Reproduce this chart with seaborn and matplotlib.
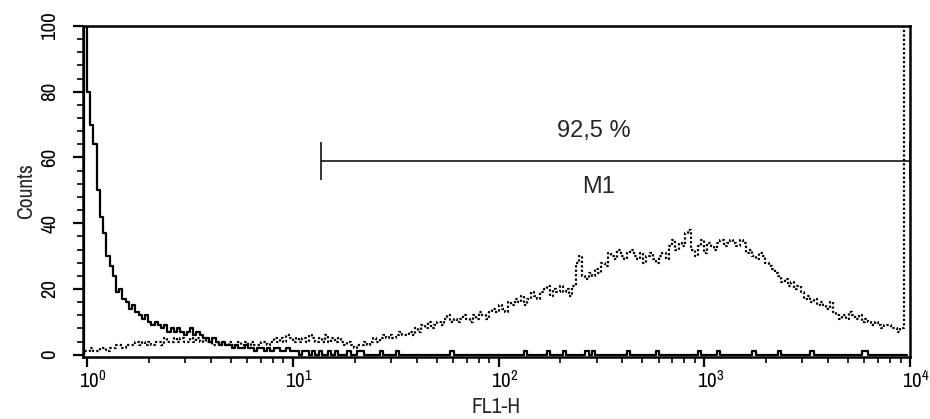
import numpy as np
import pandas as pd
import matplotlib
matplotlib.use("Agg")
import matplotlib.pyplot as plt
import matplotlib.transforms as mtransforms
from matplotlib import font_manager
from matplotlib.font_manager import FontProperties
import seaborn as sns
from matplotlib.ticker import FixedLocator, MultipleLocator, NullFormatter

# FL1-H histogram: 256 log channels over four decades (64 channels per decade);
# channel c ends at 10**(c / 64)
channels_per_decade = 64

# Unstained control (solid line), counts per channel
control_counts = [
    120, 80, 70, 64, 50, 42, 37, 30, 27, 24,
    19, 20, 17, 16, 14, 15, 13, 12, 11, 12,
    10, 9, 10, 9, 8, 9, 7, 8, 7, 8,
    7, 6, 7, 8, 6, 7, 6, 5, 5, 4,
    5, 4, 3, 4, 3, 3, 2, 3, 2, 2,
    3, 2, 2, 1, 2, 2, 1, 2, 1, 2,
    2, 1, 1, 2, 1, 1, 1, 0, 1, 1,
    0, 1, 0, 1, 0, 0, 1, 0, 1, 0,
    0, 0, 1, 0, 0, 1, 1, 0, 0, 0,
    0, 0, 1, 0, 0, 0, 0, 1, 0, 0,
    0, 0, 0, 0, 0, 0, 0, 0, 0, 0,
    0, 0, 0, 0, 1, 0, 0, 0, 0, 0,
    0, 0, 0, 0, 0, 0, 0, 0, 0, 0,
    0, 0, 0, 0, 0, 0, 0, 1, 0, 0,
    0, 0, 0, 0, 1, 0, 0, 0, 0, 1,
    0, 0, 0, 0, 0, 0, 1, 0, 1, 0,
    0, 0, 0, 0, 0, 0, 0, 0, 0, 1,
    0, 0, 0, 0, 0, 0, 0, 0, 1, 0,
    0, 0, 0, 0, 0, 0, 0, 0, 0, 0,
    0, 1, 0, 0, 0, 0, 0, 1, 0, 0,
    0, 0, 0, 0, 0, 0, 0, 0, 1, 0,
    0, 0, 0, 0, 0, 0, 1, 0, 0, 0,
    0, 0, 0, 0, 0, 0, 1, 0, 0, 0,
    0, 0, 0, 0, 0, 0, 0, 0, 0, 0,
    0, 0, 1, 1, 0, 0, 0, 0, 0, 0,
    0, 0, 0, 0, 0, 0,
]

# Stained sample (dotted line), counts per channel; last channel holds off-scale events
stained_counts = [
    1, 1, 2, 1, 1, 2, 2, 1, 2, 2,
    3, 3, 2, 3, 3, 3, 4, 3, 4, 3,
    4, 3, 4, 4, 3, 5, 4, 4, 5, 4,
    5, 4, 4, 5, 4, 5, 4, 5, 4, 4,
    3, 4, 3, 4, 3, 4, 3, 3, 4, 3,
    4, 3, 4, 3, 3, 4, 4, 3, 4, 5,
    4, 5, 4, 6, 5, 4, 5, 4, 5, 4,
    6, 5, 4, 5, 4, 6, 4, 5, 4, 5,
    4, 3, 4, 3, 2, 3, 3, 4, 3, 4,
    5, 4, 5, 6, 5, 6, 5, 6, 7, 6,
    6, 7, 6, 8, 7, 9, 8, 10, 8, 9,
    10, 9, 11, 12, 10, 11, 10, 11, 12, 11,
    10, 12, 11, 13, 12, 11, 13, 14, 13, 15,
    14, 13, 16, 15, 17, 16, 18, 15, 17, 19,
    18, 17, 19, 20, 21, 18, 20, 19, 21, 19,
    20, 18, 21, 28, 30, 24, 23, 25, 24, 26,
    25, 28, 27, 31, 30, 29, 32, 30, 29, 31,
    32, 30, 29, 31, 28, 30, 31, 29, 28, 30,
    31, 29, 33, 35, 32, 34, 33, 37, 38, 32,
    30, 33, 35, 31, 34, 33, 32, 34, 35, 33,
    34, 35, 34, 33, 35, 34, 31, 32, 30, 29,
    31, 30, 28, 27, 26, 25, 24, 22, 23, 21,
    22, 20, 21, 19, 17, 18, 16, 17, 15, 16,
    15, 14, 16, 13, 12, 11, 12, 11, 13, 12,
    11, 12, 10, 11, 10, 9, 10, 9, 8, 9,
    9, 8, 8, 7, 8, 130,
]

# Marker M1 gate
marker_name = "M1"
marker_bounds = (13.7, 10000.0)
marker_level = 59
marker_percent = 92.5

x_ticks = [1, 10, 100, 1000, 10000]
x_tick_labels = ["$10^{0}$", "$10^{1}$", "$10^{2}$", "$10^{3}$", "$10^{4}$"]
y_ticks = [0, 20, 40, 60, 80, 100]
x_label = "FL1-H"
y_label = "Counts"


def step_frame(counts, name):
    n = len(counts)
    edges = 10.0 ** ((np.arange(n + 1) - 1) / channels_per_decade)
    xs = np.concatenate([[edges[0]], edges[:-1], [edges[-1]]])
    ys = np.concatenate([[0], counts, [counts[-1]]])
    return pd.DataFrame({"FL1-H": xs, "Counts": ys, "sample": name})


def narrow_font():
    """Return (path, family name) of a regular narrow/condensed sans face, if any."""
    fonts = font_manager.fontManager.ttflist
    regular = [f for f in fonts if f.style == "normal" and f.weight in (400, "normal", "regular", "book")]
    for key in ("Narrow", "Condensed"):
        for f in regular:
            if key in f.name:
                return f.fname, f.name
    for f in regular:
        if f.stretch in ("condensed", "semi-condensed") and f.name in (
                "Liberation Sans", "DejaVu Sans", "Roboto", "Open Sans", "Noto Sans"):
            return f.fname, f.name
    return None, None


control = step_frame(control_counts, "control")
stained = step_frame(stained_counts, "stained")

sns.set_theme(style="ticks")
sans = ["Liberation Sans", "DejaVu Sans"]
plt.rcParams["font.family"] = sans

narrow_path, narrow_name = narrow_font()
if narrow_path:
    axis_font = lambda size: FontProperties(fname=narrow_path, size=size)
    tick_size = 15
    label_size = 15.5
    math_family = narrow_name
else:
    axis_font = lambda size: FontProperties(family=sans, size=size)
    tick_size = 13
    label_size = 13
    math_family = "Liberation Sans"
plt.rcParams["mathtext.fontset"] = "custom"
plt.rcParams["mathtext.rm"] = math_family
plt.rcParams["mathtext.it"] = math_family
plt.rcParams["mathtext.bf"] = math_family

fig = plt.figure(figsize=(9.3, 4.19), dpi=100)
ax = fig.add_axes([0.0892, 0.148, 0.8893, 0.79])
ax.set_xscale("log")

sns.lineplot(data=stained, x="FL1-H", y="Counts", ax=ax, estimator=None, sort=False,
             drawstyle="steps-post", color="black", linewidth=1.6,
             linestyle=(0, (1.0, 1.0)))
sns.lineplot(data=control, x="FL1-H", y="Counts", ax=ax, estimator=None, sort=False,
             drawstyle="steps-post", color="black", linewidth=1.6)

ax.set_xlim(10 ** -0.02, 10 ** 4)
ax.set_ylim(-0.7, 100)

# Marker bar with end ticks
lo, hi = marker_bounds
ax.hlines(marker_level, lo, hi, color="black", linewidth=1.1)
ax.vlines([lo, hi], marker_level - 5.8, marker_level + 5.6, color="black", linewidth=1.1)
pct_text = f"{marker_percent:.1f} %".replace(".", ",")
ax.text(290, marker_level + 9, pct_text, ha="center", va="center", fontsize=17)
ax.text(307, marker_level - 8, marker_name, ha="center", va="center", fontsize=17)

# x axis: decades with log minor ticks
minor_x = [m * 10 ** d for d in range(4) for m in range(2, 10)]
ax.xaxis.set_minor_locator(FixedLocator(minor_x))
ax.xaxis.set_minor_formatter(NullFormatter())
ax.set_xticks(x_ticks, labels=x_tick_labels)

# y axis: rotated count labels, minor ticks every 4
ax.yaxis.set_minor_locator(MultipleLocator(4))
ax.set_yticks(y_ticks, labels=[str(v) for v in y_ticks])

ax.tick_params(axis="both", which="major", direction="out", length=7, width=1.6,
               colors="black")
ax.tick_params(axis="both", which="minor", direction="out", length=4, width=1.4)
ax.tick_params(axis="x", which="major", pad=2)
ax.tick_params(axis="y", which="major", pad=10)

# "10" sits on the tick with the exponent hanging to its right
shift = mtransforms.ScaledTranslation(6 / 100, 0, fig.dpi_scale_trans)
for lab in ax.get_xticklabels():
    lab.set_fontproperties(axis_font(tick_size))
    lab.set_transform(lab.get_transform() + shift)
for lab in ax.get_yticklabels():
    lab.set_fontproperties(axis_font(tick_size))
    lab.set_rotation(90)
    lab.set_rotation_mode("default")
    lab.set_ha("right")
    lab.set_va("center")

for side in ["left", "right", "top", "bottom"]:
    ax.spines[side].set_visible(True)
    ax.spines[side].set_linewidth(1.8)
    ax.spines[side].set_color("black")

ax.set_xlabel(x_label, fontproperties=axis_font(label_size))
ax.set_ylabel(y_label, fontproperties=axis_font(label_size))
ax.xaxis.set_label_coords(0.5, -0.121)
ax.yaxis.set_label_coords(-0.057, 0.5)

fig.savefig("out.png", dpi=100, facecolor="white")
